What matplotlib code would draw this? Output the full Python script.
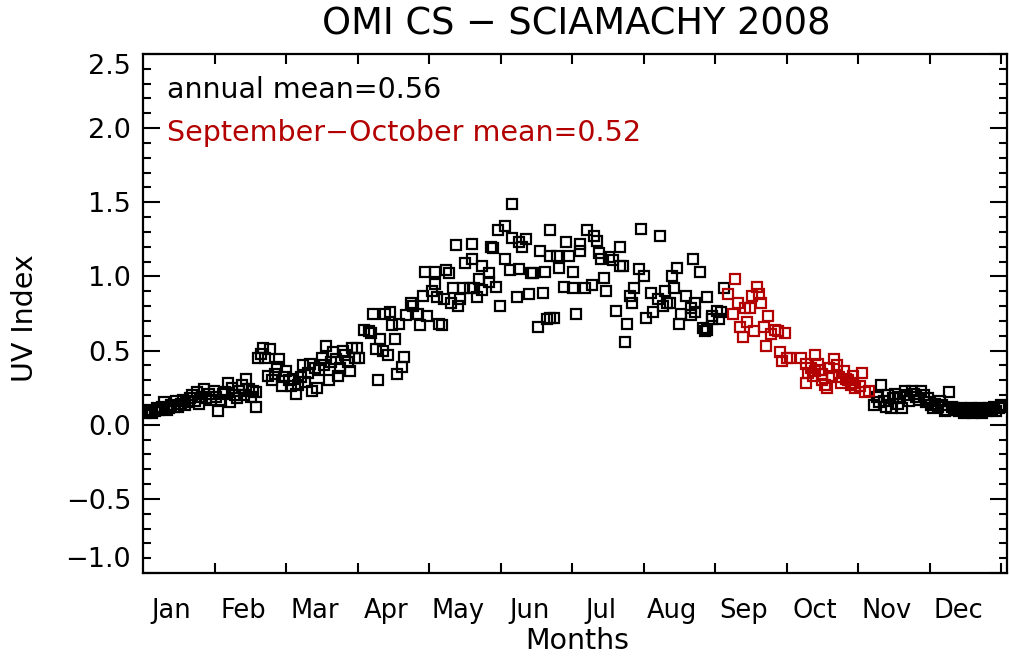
import matplotlib
matplotlib.use("Agg")
import matplotlib.pyplot as plt
from matplotlib.ticker import MultipleLocator

months = ["Jan", "Feb", "Mar", "Apr", "May", "Jun",
          "Jul", "Aug", "Sep", "Oct", "Nov", "Dec"]

# black points: day of year, UV index difference
jan_day = list(range(1, 32))
jan_uv = [0.08, 0.09, 0.10, 0.08, 0.09, 0.11, 0.10, 0.12, 0.15, 0.10, 0.11,
          0.13, 0.12, 0.16, 0.12, 0.14, 0.17, 0.13, 0.15, 0.18, 0.20, 0.16,
          0.22, 0.14, 0.19, 0.24, 0.18, 0.21, 0.17, 0.23, 0.19]
feb_day = [32, 33, 34, 35, 36, 37, 38, 39, 40, 41, 42, 43, 44, 45, 46, 47,
           48, 48, 49, 50, 51, 52, 53, 54, 55, 56, 57, 58, 59, 60, 61]
feb_uv = [0.09, 0.17, 0.21, 0.22, 0.28, 0.15, 0.25, 0.20, 0.18, 0.23, 0.27,
          0.20, 0.31, 0.24, 0.19, 0.23, 0.12, 0.22, 0.45, 0.48, 0.52, 0.45,
          0.33, 0.51, 0.30, 0.34, 0.39, 0.44, 0.26, 0.32, 0.36]
mar_day = [62, 63, 64, 65, 66, 67, 68, 69, 70, 71, 72, 73, 74, 75, 76, 77,
           78, 79, 80, 81, 82, 83, 84, 85, 86, 87, 88, 89, 90, 91, 92]
mar_uv = [0.30, 0.26, 0.31, 0.21, 0.27, 0.32, 0.40, 0.29, 0.35, 0.41, 0.23,
          0.38, 0.25, 0.37, 0.45, 0.40, 0.53, 0.30, 0.42, 0.49, 0.44, 0.33,
          0.38, 0.50, 0.47, 0.42, 0.36, 0.52, 0.45, 0.52, 0.45]
apr_day = [94, 96, 97, 98, 99, 100, 101, 102, 103, 104, 105, 106, 107, 108,
           109, 110, 111, 112, 114, 115, 117, 118, 119, 120, 121, 123, 124]
apr_uv = [0.64, 0.63, 0.62, 0.75, 0.51, 0.30, 0.58, 0.50, 0.75, 0.47, 0.76,
          0.67, 0.58, 0.34, 0.68, 0.39, 0.46, 0.74, 0.82, 0.80, 0.75, 0.67,
          0.87, 1.03, 0.73, 0.90, 0.95]
may_day = [124, 125, 126, 127, 128, 129, 130, 131, 132, 133, 134, 135, 136,
           137, 139, 140, 140, 141, 142, 143, 144, 144, 147, 147, 148, 149,
           150, 151, 152, 154, 154]
may_uv = [1.03, 0.86, 0.68, 0.67, 0.85, 1.04, 1.02, 0.82, 0.92, 1.21, 0.80,
          0.85, 0.92, 1.09, 0.92, 1.12, 1.22, 0.92, 0.86, 0.98, 1.07, 0.91,
          0.96, 1.02, 1.20, 1.19, 0.93, 1.31, 0.80, 1.34, 1.12]
jun_day = [156, 157, 157, 159, 160, 160, 161, 163, 164, 165, 166, 168, 169,
           170, 171, 172, 173, 173, 173, 175, 176, 177, 179, 180, 181, 183, 183]
jun_uv = [1.04, 1.26, 1.49, 0.86, 1.23, 1.05, 1.20, 1.25, 0.88, 1.02, 1.02,
          0.66, 1.17, 0.89, 1.03, 0.71, 0.72, 1.31, 1.14, 0.72, 1.14, 1.06,
          0.93, 1.23, 1.14, 0.92, 1.03]
jul_day = [184, 186, 186, 188, 189, 191, 192, 193, 194, 195, 196, 197, 198,
           200, 201, 203, 203, 204, 205, 206, 207, 208, 209, 211, 212, 213, 214]
jul_uv = [0.75, 1.22, 1.17, 0.92, 1.31, 0.94, 1.27, 1.24, 1.16, 1.12, 0.99,
          0.90, 1.13, 1.11, 0.77, 1.07, 1.20, 1.07, 0.56, 0.68, 0.87, 0.82,
          0.92, 1.05, 1.32, 1.00, 0.72]
aug_day = [216, 217, 219, 220, 221, 222, 223, 224, 225, 226, 227, 228, 229,
           231, 233, 233, 234, 235, 235, 237, 238, 239, 240, 240, 242, 242,
           244, 245, 246, 247]
aug_uv = [0.89, 0.76, 0.85, 1.27, 0.80, 0.90, 0.82, 0.82, 1.00, 0.92, 1.06,
          0.68, 0.75, 0.87, 0.74, 0.79, 1.12, 0.76, 0.82, 1.03, 0.65, 0.63,
          0.86, 0.64, 0.73, 0.71, 0.77, 0.71, 0.76, 0.92]
novdec_day = list(range(311, 367))
novdec_uv = [0.13, 0.19, 0.15, 0.27, 0.16, 0.12, 0.20, 0.11, 0.18, 0.21,
             0.14, 0.19, 0.11, 0.23, 0.20, 0.16, 0.23, 0.21, 0.19, 0.17,
             0.23, 0.20, 0.15, 0.18, 0.13, 0.11, 0.14, 0.12, 0.16, 0.13,
             0.09, 0.10, 0.22, 0.12, 0.11, 0.10, 0.09, 0.11, 0.08, 0.10,
             0.09, 0.11, 0.08, 0.10, 0.09, 0.11, 0.08, 0.10, 0.09, 0.11,
             0.10, 0.12, 0.09, 0.11, 0.13, 0.12]

# red points: September-October
sepoct_day = [249, 251, 252, 253, 254, 255, 256, 257, 258, 259, 260, 261,
              262, 263, 264, 265, 266, 267, 269, 270, 271, 272, 273, 274,
              275, 280, 282, 282, 283, 284, 285, 286, 286, 287, 288, 289,
              289, 290, 291, 292, 293, 294, 295, 296, 297, 298, 299, 300,
              301, 302, 302, 303, 305, 306, 307, 309]
sepoct_uv = [0.88, 0.75, 0.98, 0.82, 0.66, 0.59, 0.79, 0.69, 0.79, 0.87,
             0.63, 0.93, 0.88, 0.82, 0.66, 0.53, 0.73, 0.61, 0.64, 0.63,
             0.49, 0.43, 0.62, 0.45, 0.45, 0.45, 0.41, 0.28, 0.35, 0.38,
             0.33, 0.47, 0.36, 0.41, 0.37, 0.34, 0.30, 0.27, 0.25, 0.38,
             0.33, 0.44, 0.40, 0.32, 0.28, 0.36, 0.31, 0.30, 0.27, 0.33,
             0.28, 0.25, 0.26, 0.35, 0.22, 0.23]

black_day = jan_day + feb_day + mar_day + apr_day + may_day + jun_day + \
    jul_day + aug_day + novdec_day
black_uv = jan_uv + feb_uv + mar_uv + apr_uv + may_uv + jun_uv + \
    jul_uv + aug_uv + novdec_uv

red = "#b30000"

fig = plt.figure(figsize=(10.09, 6.57), dpi=100)
ax = fig.add_axes([143 / 1009, 84 / 657, 864 / 1009, 519 / 657])

ax.plot(black_day, black_uv, "s", ms=7, mfc="none", mec="black", mew=1.6)
ax.plot(sepoct_day, sepoct_uv, "s", ms=7, mfc="none", mec=red, mew=1.6)

ax.set_xlim(0, 367.5)
ax.set_ylim(-1.0, 2.5)

month_len = 365 / 12
ax.set_xticks([month_len * k for k in range(1, 13)])
ax.set_xticklabels([])
ax.set_xticks([month_len * (k + 0.4) for k in range(12)], minor=True)
ax.set_xticklabels(months, minor=True)
ax.tick_params(axis="x", which="major", direction="in", length=7, width=1.5,
               top=True, bottom=True)
ax.tick_params(axis="x", which="minor", length=0, pad=18, labelsize=18.5)

yticks = [-1.0, -0.5, 0.0, 0.5, 1.0, 1.5, 2.0, 2.5]
ax.set_yticks(yticks)
ax.set_yticklabels([("%.1f" % v).replace("-", "\u2212") for v in yticks])
ax.yaxis.set_minor_locator(MultipleLocator(0.1))
ax.tick_params(axis="y", which="major", direction="in", length=12.5,
               width=1.5, left=True, right=True, pad=8.5, labelsize=19.5)
ax.tick_params(axis="y", which="minor", direction="in", length=5.8,
               width=1.5, left=True, right=True)
ylabels = ax.get_yticklabels()
ylabels[0].set_va("bottom")
ylabels[-1].set_va("top")

for s in ax.spines.values():
    s.set_linewidth(1.6)

fig.text(576 / 1009, 1 - 24 / 657, "OMI CS \u2212 SCIAMACHY 2008",
         ha="center", va="center", fontsize=26.5)
fig.text(167 / 1009, 1 - 90 / 657, "annual mean=0.56",
         ha="left", va="center", fontsize=20.5)
fig.text(167 / 1009, 1 - 133 / 657, "September\u2212October mean=0.52",
         ha="left", va="center", fontsize=20.5, color=red)
fig.text(25 / 1009, 1 - 318 / 657, "UV Index", rotation=90,
         ha="center", va="center", fontsize=20.5)
fig.text(577 / 1009, 1 - 641 / 657, "Months",
         ha="center", va="center", fontsize=20.5)

fig.savefig("out.png", dpi=100)
